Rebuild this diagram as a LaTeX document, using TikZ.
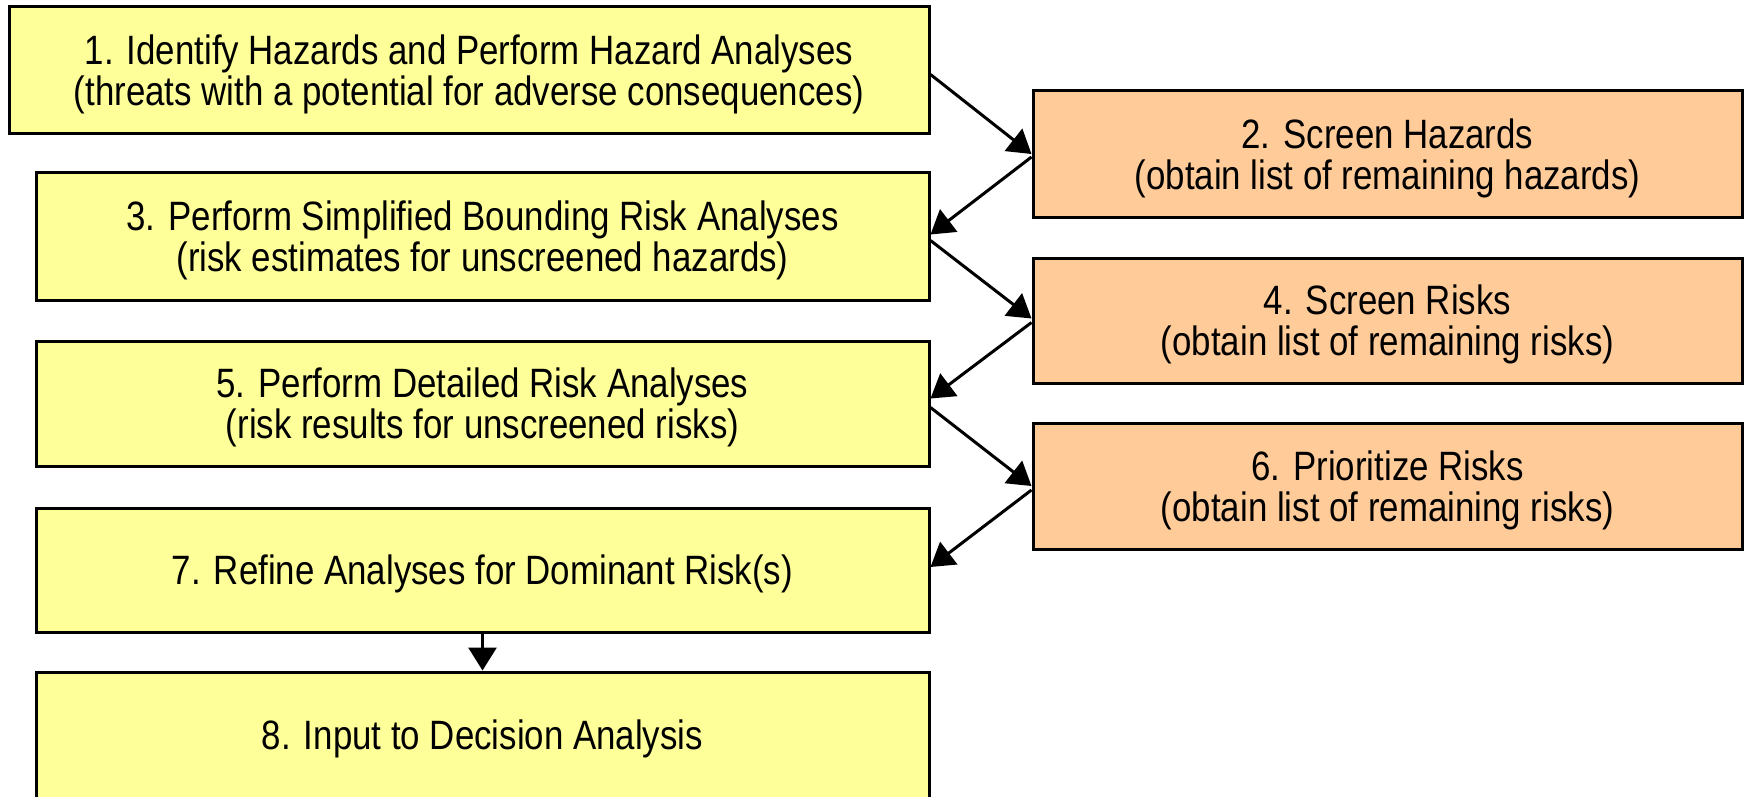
\documentclass[tikz,border=0pt]{standalone}
\usepackage{fontspec}
\setmainfont{Liberation Sans}[FakeStretch=0.85]
\usetikzlibrary{arrows.meta}
\definecolor{boxyellow}{HTML}{FFFF99}
\definecolor{boxorange}{HTML}{FFCC99}
\begin{document}
\begin{tikzpicture}[x=1pt,y=-1pt,
  box/.style={draw=black, line width=3pt, align=center, inner sep=0pt,
    font=\fontsize{41pt}{41pt}\selectfont, text=black, text depth=0pt},
  ybox/.style={box, fill=boxyellow, minimum width=893pt},
  obox/.style={box, fill=boxorange, minimum width=709pt, minimum height=126pt},
  arr/.style={line width=3pt, draw=black, -{Triangle[length=23pt,width=28pt]}}]
\useasboundingbox (0,0) rectangle (1746,797);
\clip (0,0) rectangle (1746,797);
\fill[white] (0,0) rectangle (1746,797);

\node[ybox, minimum width=920pt, minimum height=127pt] (b1) at (469,70.5)
  {1. Identify Hazards and Perform Hazard Analyses\\(threats with a potential for adverse consequences)};
\node[ybox, minimum height=127pt] (b3) at (482.5,236.5)
  {3. Perform Simplified Bounding Risk Analyses\\(risk estimates for unscreened hazards)};
\node[ybox, minimum height=125pt] (b5) at (482.5,403.5)
  {5. Perform Detailed Risk Analyses\\(risk results for unscreened risks)};
\node[ybox, minimum height=124pt] (b7) at (482.5,570)
  {7. Refine Analyses for Dominant Risk(s)};
\node[ybox, minimum height=126pt] (b8) at (482.5,735)
  {8. Input to Decision Analysis};

\node[obox] (b2) at (1387.5,154)
  {2. Screen Hazards\\(obtain list of remaining hazards)};
\node[obox, minimum height=125pt] (b4) at (1387.5,320.5)
  {4. Screen Risks\\(obtain list of remaining risks)};
\node[obox] (b6) at (1387.5,486)
  {6. Prioritize Risks\\(obtain list of remaining risks)};

\draw[arr] ([yshift=-4pt]b1.east) -- (b2.west);
\draw[arr] ([yshift=-3pt]b2.west) -- ([yshift=2pt]b3.east);
\draw[arr] ([yshift=-4pt]b3.east) -- ([yshift=2pt]b4.west);
\draw[arr] ([yshift=-2pt]b4.west) -- ([yshift=5pt]b5.east);
\draw[arr] ([yshift=-4pt]b5.east) -- (b6.west);
\draw[arr] ([yshift=-4pt]b6.west) -- ([yshift=3pt]b7.east);
\draw[arr] (b7.south) -- (b8.north);
\end{tikzpicture}
\end{document}
